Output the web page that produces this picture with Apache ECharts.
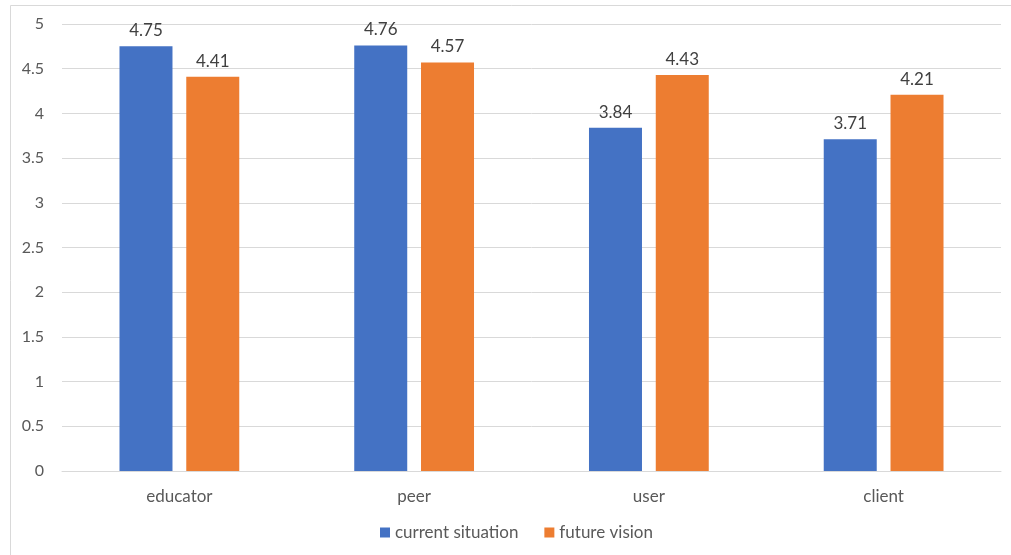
<!DOCTYPE html>
<html><head><meta charset="utf-8">
<script src="https://cdn.jsdelivr.net/npm/echarts@6/dist/echarts.min.js"></script>
<style>html,body{margin:0;padding:0;background:#fff}#c{width:1011px;height:555px}</style>
</head><body><div id="c"></div>
<script>
const categories = ['educator', 'peer', 'user', 'client'];
const currentSituation = [4.75, 4.76, 3.84, 3.71];
const futureVision = [4.41, 4.57, 4.43, 4.21];
const yTicks = [0, 0.5, 1, 1.5, 2, 2.5, 3, 3.5, 4, 4.5, 5];

const font = 'Lato, "Open Sans", sans-serif';
const chart = echarts.init(document.getElementById('c'), null, {renderer: 'canvas'});
chart.setOption({
  animation: false,
  textStyle: {fontFamily: font},
  graphic: [{type: 'rect', shape: {x: 10.5, y: 5.5, width: 1010, height: 560}, style: {fill: 'none', stroke: '#d9d9d9', lineWidth: 1}, silent: true}],
  grid: {left: 62, right: 10, top: 24, bottom: 84},
  legend: {
    bottom: 14, left: 380, itemWidth: 10, itemHeight: 10, itemGap: 26, padding: 0,
    icon: 'rect',
    textStyle: {fontSize: 17, color: '#595959', fontFamily: font}
  },
  xAxis: {
    type: 'category', data: categories,
    axisLine: {lineStyle: {color: '#d9d9d9'}},
    axisTick: {show: false},
    axisLabel: {fontSize: 17, color: '#595959', margin: 17, fontFamily: font}
  },
  yAxis: {
    type: 'value', min: yTicks[0], max: yTicks[yTicks.length - 1], interval: 0.5,
    axisLine: {show: false}, axisTick: {show: false},
    splitLine: {lineStyle: {color: '#d9d9d9'}},
    axisLabel: {fontSize: 16, color: '#595959', margin: 18, fontFamily: font}
  },
  series: [
    {name: 'current situation', type: 'bar', data: currentSituation, barWidth: 53, barGap: '26%',
     itemStyle: {color: '#4472C4'},
     label: {show: true, position: 'top', distance: 7, fontSize: 17, color: '#404040', fontFamily: font}},
    {name: 'future vision', type: 'bar', data: futureVision, barWidth: 53,
     itemStyle: {color: '#ED7D31'},
     label: {show: true, position: 'top', distance: 7, fontSize: 17, color: '#404040', fontFamily: font}}
  ]
});
</script></body></html>
